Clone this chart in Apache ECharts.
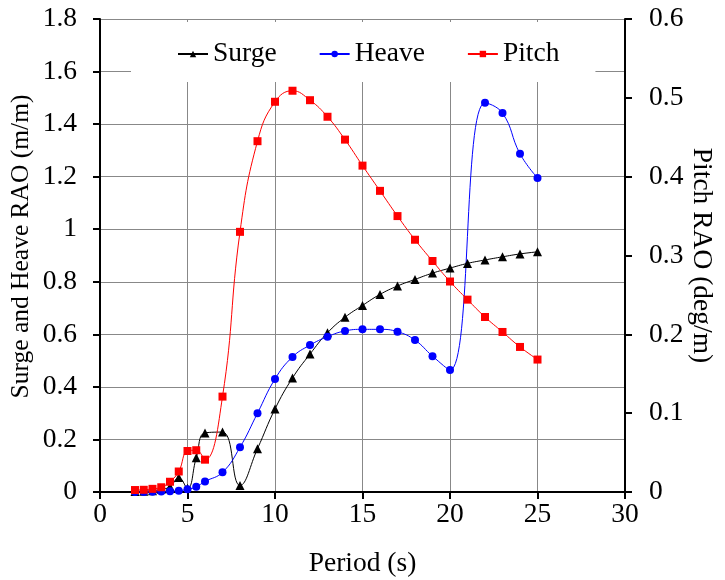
<!DOCTYPE html>
<html>
<head>
<meta charset="utf-8">
<script src="https://cdn.jsdelivr.net/npm/echarts@6/dist/echarts.min.js"></script>
<style>
  html, body { margin: 0; padding: 0; background: #fff; }
  #chart { width: 725px; height: 580px; }
</style>
</head>
<body>
<div id="chart"></div>
<script>
// Wave periods (s) at which the RAOs were computed
const periods = [2, 2.5, 3, 3.5, 4, 4.5, 5, 5.5, 6, 7, 8, 9, 10, 11, 12, 13, 14, 15, 16, 17, 18, 19, 20, 21, 22, 23, 24, 25];

// Surge RAO (m/m)
const surge = [0.002, 0.003, 0.005, 0.01, 0.02, 0.055, 0.014, 0.13, 0.225, 0.228, 0.025, 0.165, 0.316, 0.434, 0.525, 0.606, 0.665, 0.71, 0.752, 0.784, 0.809, 0.833, 0.852, 0.87, 0.883, 0.895, 0.906, 0.914];

// Heave RAO (m/m) - no result at 21 s
const heavePeriods = [2, 2.5, 3, 3.5, 4, 4.5, 5, 5.5, 6, 7, 8, 9, 10, 11, 12, 13, 14, 15, 16, 17, 18, 19, 20, 22, 23, 24, 25];
const heave = [0, 0, 0.001, 0.002, 0.003, 0.005, 0.01, 0.02, 0.04, 0.075, 0.17, 0.30, 0.43, 0.514, 0.559, 0.591, 0.613, 0.619, 0.619, 0.61, 0.578, 0.517, 0.464, 1.481, 1.442, 1.287, 1.195];

// Pitch RAO (deg/m), right-hand axis
const pitch = [0.0025, 0.0028, 0.004, 0.006, 0.013, 0.026, 0.052, 0.053, 0.041, 0.121, 0.33, 0.445, 0.495, 0.509, 0.497, 0.476, 0.447, 0.414, 0.382, 0.35, 0.32, 0.293, 0.267, 0.244, 0.222, 0.203, 0.184, 0.168];

const seriesNames = ['Surge', 'Heave', 'Pitch'];

const pairs = (xs, ys) => xs.map((x, i) => [x, ys[i]]);

const FONT = '"Liberation Serif", "Times New Roman", serif';
const FS = 27.5;
const axisLineStyle = { color: '#000', width: 2 };

const chart = echarts.init(document.getElementById('chart'), null, { renderer: 'canvas' });

chart.setOption({
  animation: false,
  backgroundColor: '#fff',
  textStyle: { fontFamily: FONT },
  grid: { left: 100, right: 100, top: 19, bottom: 88, containLabel: false, outerBoundsMode: 'none' },
  legend: {
    data: seriesNames,
    left: 131,
    top: 22,
    padding: [18, 36, 14, 46],
    backgroundColor: '#fff',
    itemWidth: 30,
    itemHeight: 8,
    itemGap: 42,
    textStyle: { fontFamily: FONT, fontSize: FS, color: '#000', padding: [0, 0, 0, 0] }
  },
  xAxis: {
    type: 'value',
    min: 0, max: 30, interval: 5,
    name: 'Period (s)',
    nameLocation: 'middle',
    nameGap: 58,
    nameTextStyle: { fontFamily: FONT, fontSize: FS, color: '#000' },
    axisLine: { onZero: false, lineStyle: axisLineStyle },
    axisTick: { show: true, inside: false, length: 7, lineStyle: axisLineStyle },
    axisLabel: { fontFamily: FONT, fontSize: FS, color: '#000', margin: 9 },
    splitLine: { show: true, lineStyle: { color: '#888', width: 1 } }
  },
  yAxis: [
    {
      type: 'value',
      position: 'left',
      min: 0, max: 1.8, interval: 0.2,
      name: 'Surge and Heave RAO (m/m)',
      nameLocation: 'middle',
      nameGap: 66,
      nameMoveOverlap: false,
      nameRotate: 90,
      nameTextStyle: { fontFamily: FONT, fontSize: 25.5, color: '#000', padding: [0, 0, 0, 18] },
      axisLine: { show: true, lineStyle: axisLineStyle },
      axisTick: { show: true, inside: false, length: 7, lineStyle: axisLineStyle },
      axisLabel: { fontFamily: FONT, fontSize: FS, color: '#000', margin: 23 },
      splitLine: { show: true, lineStyle: { color: '#888', width: 1 } }
    },
    {
      type: 'value',
      position: 'right',
      min: 0, max: 0.6, interval: 0.1,
      name: 'Pitch RAO (deg/m)',
      nameLocation: 'middle',
      nameGap: 62,
      nameMoveOverlap: false,
      nameRotate: -90,
      nameTextStyle: { fontFamily: FONT, fontSize: FS, color: '#000' },
      axisLine: { show: true, lineStyle: axisLineStyle },
      axisTick: { show: true, inside: false, length: 7, lineStyle: axisLineStyle },
      axisLabel: { fontFamily: FONT, fontSize: FS, color: '#000', margin: 24 },
      splitLine: { show: false }
    }
  ],
  series: [
    {
      name: 'Surge',
      type: 'line',
      yAxisIndex: 0,
      data: pairs(periods, surge),
      smooth: 0.45,
      symbol: 'triangle',
      symbolSize: 9,
      itemStyle: { color: '#000' },
      lineStyle: { color: '#000', width: 1 }
    },
    {
      name: 'Heave',
      type: 'line',
      yAxisIndex: 0,
      data: pairs(heavePeriods, heave),
      smooth: 0.45,
      symbol: 'circle',
      symbolSize: 8,
      itemStyle: { color: '#0000ff' },
      lineStyle: { color: '#0000ff', width: 1 }
    },
    {
      name: 'Pitch',
      type: 'line',
      yAxisIndex: 1,
      data: pairs(periods, pitch),
      smooth: 0.45,
      symbol: 'rect',
      symbolSize: 8,
      itemStyle: { color: '#ff0000' },
      lineStyle: { color: '#ff0000', width: 1 }
    }
  ]
});
</script>
</body>
</html>
